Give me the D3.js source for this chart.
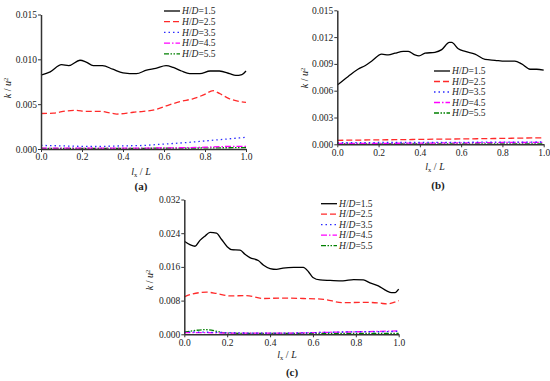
<!DOCTYPE html>
<html>
<meta charset="utf-8">
<style>
    body { margin: 0; background: #fff; }
    text { font-family: "Liberation Serif", "Times New Roman", serif; fill: #222; }
    .axis path, .axis line { stroke: #333; }
    .axis path { stroke-width: 1.5px; }
    .axis text { font-size: 9.5px; fill: #222; }
</style>
<body>
<script src="https://d3js.org/d3.v7.min.js"></script>
<script>

    var width = 550,
        height = 381;

    // legend labels and x grid for the low curves
    var ratios = ["1.5", "2.5", "3.5", "4.5", "5.5"];
    var xGrid = [0, 0.1, 0.2, 0.3, 0.4, 0.5, 0.6, 0.7, 0.8, 0.9, 1.0];
    var xTicks = [0, 0.2, 0.4, 0.6, 0.8, 1.0];

    // panel (a)
    var aTicks = [0, 0.005, 0.010, 0.015];
    var a15x = [0, 0.045, 0.1, 0.135, 0.19, 0.22, 0.255, 0.3, 0.35, 0.4, 0.465, 0.515, 0.56, 0.61, 0.645, 0.685, 0.725, 0.775, 0.825, 0.87, 0.92, 0.95, 0.98, 1.0];
    var a15 = [0.00825, 0.0086, 0.0094, 0.0093, 0.0099, 0.0097, 0.0093, 0.0093, 0.0089, 0.0085, 0.0084, 0.0088, 0.0090, 0.0093, 0.0091, 0.0087, 0.0084, 0.0084, 0.0087, 0.0087, 0.0084, 0.0082, 0.0083, 0.0087];
    var a25x = [0, 0.06, 0.125, 0.17, 0.22, 0.29, 0.34, 0.37, 0.45, 0.5, 0.56, 0.61, 0.68, 0.74, 0.79, 0.84, 0.87, 0.92, 1.0];
    var a25 = [0.00396, 0.0040, 0.00425, 0.0043, 0.0042, 0.0042, 0.0040, 0.0039, 0.0041, 0.0042, 0.0044, 0.0048, 0.0053, 0.0056, 0.0060, 0.0065, 0.0062, 0.0056, 0.0052];
    var a35 = [0.0004, 0.00035, 0.0003, 0.0003, 0.00035, 0.0004, 0.00055, 0.0007, 0.0009, 0.0011, 0.0013];
    var a45 = [0.0001, 0.0001, 0.0001, 0.0001, 0.0001, 0.0001, 0.00012, 0.00015, 0.0002, 0.00028, 0.0003];
    var a55 = [0.00008, 0.00008, 0.00008, 0.00008, 0.00008, 0.00008, 0.0001, 0.0001, 0.00012, 0.00014, 0.00015];

    // panel (b)
    var bTicks = [0, 0.003, 0.006, 0.009, 0.012, 0.015];
    var b15x = [0, 0.053, 0.1, 0.134, 0.166, 0.215, 0.247, 0.28, 0.32, 0.344, 0.376, 0.396, 0.425, 0.473, 0.506, 0.543, 0.554, 0.586, 0.62, 0.667, 0.716, 0.764, 0.813, 0.86, 0.893, 0.934, 0.966, 1.0];
    var b15 = [0.00663, 0.0076, 0.0084, 0.0088, 0.0093, 0.0101, 0.0100, 0.0102, 0.0104, 0.0104, 0.0100, 0.0099, 0.0102, 0.0103, 0.0106, 0.0114, 0.0114, 0.0107, 0.0104, 0.0101, 0.0095, 0.0094, 0.0093, 0.0093, 0.0090, 0.0084, 0.0084, 0.0083];
    var b25 = [0.00045, 0.00047, 0.0005, 0.00052, 0.00055, 0.00058, 0.0006, 0.00063, 0.00066, 0.0007, 0.00072];
    var b35 = [0.00018, 0.00018, 0.0002, 0.0002, 0.0002, 0.00022, 0.00022, 0.00024, 0.00025, 0.00025, 0.00026];
    var b45 = [0.0001, 0.0001, 0.0001, 0.00012, 0.00013, 0.00015, 0.00016, 0.00018, 0.0002, 0.0002, 0.00021];
    var b55 = [0.00005, 0.00005, 0.00005, 0.00005, 0.00005, 0.00005, 0.00005, 0.00005, 0.00005, 0.00005, 0.00005];

    // panel (c)
    var cTicks = [0, 0.008, 0.016, 0.024, 0.032];
    var c15x = [0, 0.026, 0.05, 0.073, 0.096, 0.12, 0.15, 0.174, 0.2, 0.22, 0.26, 0.283, 0.306, 0.345, 0.37, 0.4, 0.43, 0.46, 0.51, 0.555, 0.58, 0.6, 0.633, 0.68, 0.74, 0.79, 0.835, 0.866, 0.905, 0.944, 0.967, 0.983, 1.0];
    var c15 = [0.0221, 0.0213, 0.0209, 0.0223, 0.0233, 0.0242, 0.0240, 0.0225, 0.0208, 0.0201, 0.0200, 0.0190, 0.0182, 0.0175, 0.0164, 0.0156, 0.0154, 0.0157, 0.0159, 0.0159, 0.0148, 0.0135, 0.0129, 0.0128, 0.0127, 0.0130, 0.0129, 0.0122, 0.0115, 0.0103, 0.0099, 0.0099, 0.0107];
    var c25x = [0, 0.04, 0.104, 0.15, 0.213, 0.29, 0.37, 0.446, 0.555, 0.65, 0.74, 0.835, 0.913, 0.944, 1.0];
    var c25 = [0.0089, 0.0096, 0.0100, 0.0097, 0.0091, 0.0092, 0.0085, 0.0086, 0.0085, 0.0083, 0.0075, 0.0076, 0.0074, 0.0072, 0.0080];
    var c35 = [0.0006, 0.0005, 0.0004, 0.0003, 0.0003, 0.0003, 0.0004, 0.0005, 0.0006, 0.0006, 0.0007];
    var c45 = [0.0004, 0.0004, 0.0003, 0.0003, 0.0003, 0.0003, 0.0004, 0.0005, 0.0006, 0.0007, 0.0008];
    var c55 = [0.0005, 0.0011, 0.0003, 0.0002, 0.0002, 0.0002, 0.0002, 0.0002, 0.0002, 0.0002, 0.0002];

    var styles = [
        { color: "#000", dash: null },
        { color: "#ff2a2a", dash: "6,3" },
        { color: "#2a2aff", dash: "1.5,3" },
        { color: "#ff00ff", dash: "6,2,1.5,2" },
        { color: "#008000", dash: "5,1.5,1.5,1.5,1.5,1.5" }
    ];

    function zip(xs, ys) {
        return ys.map(function (v, i) { return [xs[i], v]; });
    }

    var panels = [
        {
            tag: "(a)", left: 41, right: 246, top: 14.5, bottom: 149, ymax: 0.015, ticks: aTicks,
            series: [zip(a15x, a15), zip(a25x, a25), zip(xGrid, a35), zip(xGrid, a45), zip(xGrid, a55)],
            legend: [164, 11, 10.7], ytitle: [8, 88], xtitle: [141, 175], tagPos: [141, 190]
        },
        {
            tag: "(b)", left: 337.3, right: 543.7, top: 10.3, bottom: 144.3, ymax: 0.015, ticks: bTicks,
            series: [zip(b15x, b15), zip(xGrid, b25), zip(xGrid, b35), zip(xGrid, b45), zip(xGrid, b55)],
            legend: [434, 71, 10.5], ytitle: [305, 78], xtitle: [435, 170], tagPos: [438, 189]
        },
        {
            tag: "(c)", left: 184.3, right: 398.7, top: 199.5, bottom: 334.3, ymax: 0.032, ticks: cTicks,
            series: [zip(c15x, c15), zip(c25x, c25), zip(xGrid, c35), zip(xGrid, c45), zip(xGrid, c55)],
            legend: [321, 203.7, 10.5], ytitle: [150, 280], xtitle: [287, 358], tagPos: [292, 376]
        }
    ];

    var svg = d3.select("body").append("svg")
        .attr("width", width)
        .attr("height", height);

    panels.forEach(function (p) {
        var x = d3.scaleLinear().domain([0, 1]).range([p.left, p.right]);
        var y = d3.scaleLinear().domain([0, p.ymax]).range([p.bottom, p.top]);
        var g = svg.append("g");

        var line = d3.line()
            .x(function (d) { return x(d[0]); })
            .y(function (d) { return y(d[1]); })
            .curve(d3.curveMonotoneX);

        // draw low curves first so the big ones sit on top
        p.series.slice().reverse().forEach(function (s, j) {
            var i = p.series.length - 1 - j;
            g.append("path")
                .datum(s)
                .attr("fill", "none")
                .attr("stroke", styles[i].color)
                .attr("stroke-width", 1.3)
                .attr("stroke-dasharray", styles[i].dash)
                .attr("d", line);
        });

        g.append("g")
            .attr("class", "axis")
            .attr("transform", "translate(0," + p.bottom + ")")
            .call(d3.axisBottom(x).tickValues(xTicks).tickFormat(d3.format(".1f")).tickSize(3).tickSizeOuter(0))
            .selectAll("text").attr("dy", "0.55em");

        g.append("g")
            .attr("class", "axis")
            .attr("transform", "translate(" + p.left + ",0)")
            .call(d3.axisLeft(y).tickValues(p.ticks).tickFormat(d3.format(".3f")).tickSize(3).tickSizeOuter(0))
            .selectAll("text").attr("x", -4);

        // legend
        var lg = g.append("g");
        ratios.forEach(function (r, i) {
            var ly = p.legend[1] + i * p.legend[2];
            lg.append("line")
                .attr("x1", p.legend[0]).attr("x2", p.legend[0] + 16)
                .attr("y1", ly).attr("y2", ly)
                .attr("stroke", styles[i].color)
                .attr("stroke-width", 1.3)
                .attr("stroke-dasharray", styles[i].dash);
            var t = lg.append("text")
                .attr("x", p.legend[0] + 18)
                .attr("y", ly + 3.2)
                .style("font-size", "9.5px");
            t.append("tspan").style("font-style", "italic").text("H");
            t.append("tspan").text("/");
            t.append("tspan").style("font-style", "italic").text("D");
            t.append("tspan").text("=" + r);
        });

        // y title
        var yt = g.append("text")
            .attr("transform", "translate(" + (p.ytitle[0] + 3) + "," + p.ytitle[1] + ") rotate(-90)")
            .attr("text-anchor", "middle")
            .style("font-size", "10px");
        yt.append("tspan").style("font-style", "italic").text("k");
        yt.append("tspan").text(" / ");
        yt.append("tspan").style("font-style", "italic").text("u");
        yt.append("tspan").attr("dy", -3).style("font-size", "6.5px").text("2");

        // x title
        var xt = g.append("text")
            .attr("x", p.xtitle[0])
            .attr("y", p.xtitle[1])
            .attr("text-anchor", "middle")
            .style("font-size", "10px");
        xt.append("tspan").style("font-style", "italic").text("l");
        xt.append("tspan").attr("dy", 2).style("font-size", "6.5px").text("x");
        xt.append("tspan").attr("dy", -2).text(" / ");
        xt.append("tspan").style("font-style", "italic").text("L");

        g.append("text")
            .attr("x", p.tagPos[0])
            .attr("y", p.tagPos[1])
            .attr("text-anchor", "middle")
            .style("font-size", "11px")
            .style("font-weight", "bold")
            .text(p.tag);
    });

</script>
</body>
</html>
